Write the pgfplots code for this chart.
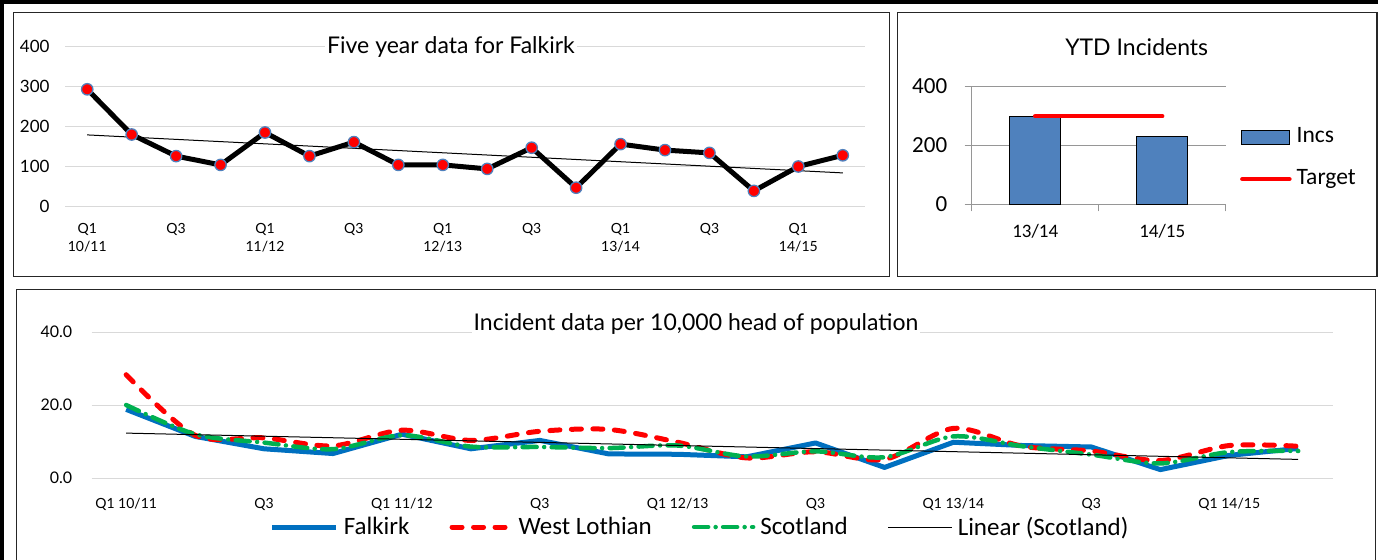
\documentclass[border=0pt]{standalone}
\usepackage{pgfplots}
\pgfplotsset{compat=1.18}
\usepackage{fontspec}
\setmainfont{Lato}
\newfontfamily\gill{Lato}
\newfontfamily\calib{Carlito}
\definecolor{barblue}{HTML}{4F81BD}
\definecolor{fblue}{HTML}{0070C0}
\definecolor{sgreen}{HTML}{00B050}
\definecolor{gridgray}{HTML}{D9D9D9}
\definecolor{axgray}{HTML}{969696}
\newcommand{\fsz}[2]{\fontsize{#1bp}{#2bp}\selectfont}
\pgfplotsset{/pgf/number format/assume math mode=true}
\tikzset{
  fstyle/.style={fblue, line width=5bp, line join=round},
  wstyle/.style={red, line width=5bp, line cap=round, dash pattern=on 10bp off 11.5bp},
  sstyle/.style={sgreen, line width=4.5bp, line cap=round, dash pattern=on 14bp off 7.5bp on 0bp off 7.5bp},
}
\begin{document}
\begin{tikzpicture}
\path[use as bounding box] (0,0) rectangle (1378bp,-560bp);
\fill[white] (0,0) rectangle (1378bp,-560bp);
\draw[line width=1.2bp, black!85] (13.3bp,-12.7bp) rectangle (889.3bp,-276.2bp);
\draw[line width=1.2bp, black!85] (897.3bp,-12.7bp) rectangle (1377bp,-276.5bp);
\draw[line width=1.2bp, black!85] (16.5bp,-289.3bp) rectangle (1375.5bp,-600bp);
\draw[line width=4bp] (1.8bp,-600bp) -- (1.8bp,-2bp) -- (1400bp,-2bp);

% ---------- Top-left: five year data ----------
\begin{axis}[
  at={(65bp,-206.5bp)}, anchor=south west,
  scale only axis, width=800bp, height=160bp,
  xmin=-0.5, xmax=17.5, ymin=0, ymax=400,
  axis line style={draw=none}, major tick length=0pt,
  ytick={0,100,200,300,400},
  xtick={0,2,...,16},
  xticklabels={{Q1\\10/11},Q3,{Q1\\11/12},Q3,{Q1\\12/13},Q3,{Q1\\13/14},Q3,{Q1\\14/15}},
  xticklabel style={align=center, font=\gill\fsz{14}{18}, anchor=north, yshift=-13bp},
  yticklabel style={font=\gill\fsz{17}{20}, anchor=east, xshift=-12bp},
  ymajorgrids, grid style={gridgray, line width=1bp},
  clip=false,
]
\addplot[black, line width=1bp] coordinates {(0,179) (17,84)};
\addplot[black, line width=5bp, line join=round, mark=*, mark size=5.7bp,
  mark options={fill=red, draw=barblue, line width=1.3bp}] coordinates {
  (0,293) (1,180) (2,126) (3,104) (4,185) (5,126) (6,161) (7,104) (8,104)
  (9,94) (10,147) (11,47) (12,156) (13,141) (14,134) (15,39) (16,100) (17,128)};
\end{axis}
\node[fill=white, inner sep=2bp, font=\gill\fsz{23}{26}] at (451bp,-47bp) {Five year data for Falkirk};

% ---------- Top-right: YTD ----------
\begin{axis}[
  at={(971.7bp,-204.3bp)}, anchor=south west,
  scale only axis, width=254bp, height=118.3bp,
  xmin=-0.5, xmax=1.5, ymin=0, ymax=400,
  ytick={0,200,400},
  xtick={0,1}, xticklabels={13/14,14/15},
  minor xtick={-0.5,0.5,1.5},
  axis x line*=bottom, axis y line*=left,
  axis line style={-, axgray, line width=1bp},
  tick style={axgray, line width=1bp},
  major x tick style={draw=none},
  tick align=outside, major tick length=7bp, minor tick length=7bp,
  ymajorgrids, grid style={axgray, line width=1bp},
  xticklabel style={font=\calib\fsz{19}{22}, yshift=-9bp},
  yticklabel style={font=\calib\fsz{23}{26}, xshift=-14bp},
  legend style={at={(1.056,0.39)}, anchor=west, draw=none, fill=none, inner sep=0pt,
    row sep=21bp, font=\calib\fsz{23.5}{26},
    nodes={inner sep=0pt, text height=16bp, text depth=5bp},
    /tikz/every odd column/.append style={column sep=5bp}},
  legend cell align=left,
  clip=false,
]
\addplot[ybar, bar width=51bp, fill=barblue, draw=black, line width=1bp,
  legend image code/.code={\draw[fill=barblue, draw=black, line width=1bp] (0bp,-7bp) rectangle (48bp,7bp);}]
  coordinates {(0,298) (1,228)};
\addlegendentry{Incs}
\addplot[red, line width=4.5bp, line cap=round,
  legend image code/.code={\draw[red, line width=4.5bp, line cap=round] (1bp,0bp) -- (48bp,0bp);}]
  coordinates {(0,298) (1,298)};
\addlegendentry{Target}
\end{axis}
\node[font=\gill\fsz{23}{26}] at (1136.7bp,-46.7bp) {YTD Incidents};

% ---------- Bottom: per 10,000 ----------
\begin{axis}[
  at={(91.7bp,-478bp)}, anchor=south west,
  scale only axis, width=1241bp, height=146bp,
  xmin=-0.5, xmax=17.5, ymin=0, ymax=40,
  axis line style={draw=none}, major tick length=0pt,
  ytick={0,20,40},
  yticklabel={\pgfmathprintnumber[fixed, fixed zerofill, precision=1]{\tick}},
  xtick={0,2,...,16},
  xticklabels={Q1 10/11,Q3,Q1 11/12,Q3,Q1 12/13,Q3,Q1 13/14,Q3,Q1 14/15},
  xticklabel style={font=\gill\fsz{14}{17}, anchor=north, yshift=-17bp},
  yticklabel style={font=\gill\fsz{16}{19}, anchor=east, xshift=-16bp},
  ymajorgrids, grid style={gridgray, line width=1bp},
  clip=false,
  legend columns=4,
  legend style={at={(0.4895,-0.336)}, anchor=center, draw=none, fill=none, inner sep=0pt,
    font=\calib\fsz{25}{28},
    nodes={inner sep=0pt},
    /tikz/every odd column/.append style={column sep=5bp},
    /tikz/every even column/.append style={column sep=40bp}},
  legend cell align=left,
]
\addplot[fstyle,
  legend image code/.code={\draw[fstyle] (0bp,0bp) -- (64bp,0bp);}] coordinates {
  (0,18.8) (1,11.4) (2,8.0) (3,6.7) (4,12.0) (5,8.0) (6,10.3) (7,6.6) (8,6.5)
  (9,5.8) (10,9.6) (11,2.9) (12,9.8) (13,8.9) (14,8.5) (15,2.3) (16,6.2) (17,8.1)};
\addlegendentry{Falkirk}
\addplot[wstyle, smooth,
  legend image code/.code={\draw[wstyle] (2.5bp,0bp) -- (61.5bp,0bp);}] coordinates {
  (0,28.3) (1,11.7) (2,11.0) (3,8.8) (4,13.1) (5,10.3) (6,12.8) (7,13.3) (8,9.8)
  (9,5.5) (10,7.2) (11,5.1) (12,13.6) (13,8.7) (14,7.4) (15,4.8) (16,8.9) (17,8.7)};
\addlegendentry{West Lothian}
\addplot[sstyle, smooth,
  legend image code/.code={\draw[sstyle] (2.5bp,0bp) -- (61.5bp,0bp);}] coordinates {
  (0,20.0) (1,12.0) (2,9.7) (3,7.9) (4,11.7) (5,8.6) (6,8.5) (7,8.2) (8,8.9)
  (9,5.9) (10,7.3) (11,5.7) (12,11.4) (13,8.7) (14,6.4) (15,4.0) (16,7.1) (17,7.4)};
\addlegendentry{Scotland}
\addplot[black, line width=1bp,
  legend image code/.code={\draw[black, line width=1bp] (0bp,0bp) -- (64bp,0bp);}] coordinates {(0,12.3) (17,5.1)};
\addlegendentry{Linear (Scotland)}
\end{axis}
\node[fill=white, inner sep=2bp, font=\gill\fsz{23}{26}] at (696bp,-324bp) {Incident data per 10,000 head of population};
\end{tikzpicture}
\end{document}
